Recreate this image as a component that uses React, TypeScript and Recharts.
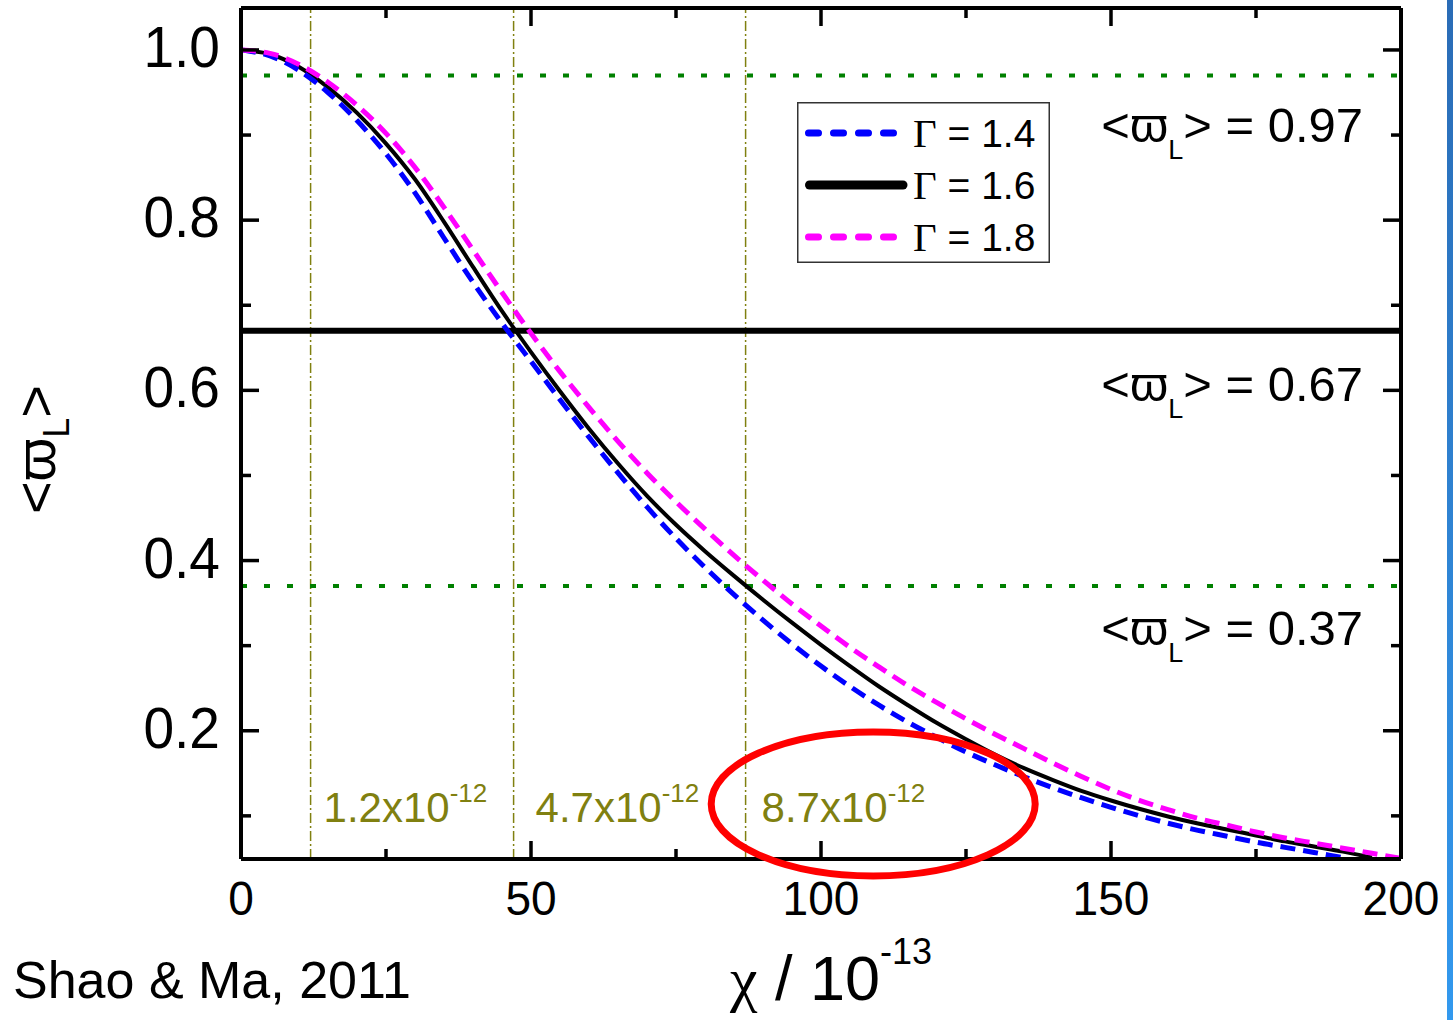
import React from 'react';
import { LineChart, Line, XAxis, YAxis, ReferenceLine, ReferenceDot, Legend } from 'recharts';

// ---- data ----
const chi = [0, 5, 10, 15, 20, 25, 30, 35, 40, 45, 50, 55, 60, 65, 70, 75, 80, 85, 90, 95, 100, 105, 110, 115, 120, 125, 130, 135, 140, 145, 150, 155, 160, 165, 170, 175, 180, 185, 190, 195, 200];
const gamma14 = [1.0, 0.993, 0.976, 0.95, 0.917, 0.878, 0.832, 0.779, 0.727, 0.679, 0.634, 0.589, 0.545, 0.503, 0.463, 0.426, 0.392, 0.36, 0.33, 0.302, 0.276, 0.252, 0.23, 0.21, 0.192, 0.175, 0.16, 0.146, 0.133, 0.121, 0.11, 0.1, 0.091, 0.083, 0.076, 0.069, 0.063, 0.057, 0.051, null, null];
const gamma16 = [1.0, 0.995, 0.98, 0.956, 0.926, 0.89, 0.848, 0.798, 0.745, 0.693, 0.645, 0.599, 0.555, 0.514, 0.476, 0.442, 0.411, 0.382, 0.354, 0.327, 0.301, 0.276, 0.252, 0.23, 0.209, 0.19, 0.172, 0.156, 0.142, 0.129, 0.118, 0.108, 0.099, 0.091, 0.084, 0.077, 0.07, 0.064, 0.058, 0.051, null];
const gamma18 = [1.0, 0.996, 0.983, 0.962, 0.935, 0.902, 0.862, 0.815, 0.765, 0.715, 0.667, 0.622, 0.58, 0.54, 0.503, 0.469, 0.437, 0.406, 0.377, 0.349, 0.323, 0.298, 0.275, 0.253, 0.233, 0.214, 0.196, 0.179, 0.162, 0.146, 0.131, 0.118, 0.107, 0.097, 0.089, 0.081, 0.074, 0.068, 0.062, 0.056, 0.05];

const seriesKeys = ['g16', 'g14', 'g18'];
const seriesGamma = ['1.6', '1.4', '1.8'];
const legendOrder = ['g14', 'g16', 'g18'];

const xTicks = [0, 25, 50, 75, 100, 125, 150, 175, 200];
const xLabels = [0, 50, 100, 150, 200];
const yTicks = [0.1, 0.2, 0.3, 0.4, 0.5, 0.6, 0.7, 0.8, 0.9, 1.0];
const yLabels = [0.2, 0.4, 0.6, 0.8, 1.0];

const levelValues = [0.97, 0.67, 0.37];
const levelLabels = ['0.97', '0.67', '0.37'];
const markerChi = [12, 47, 87];
const markerLabels = ['1.2x10', '4.7x10', '8.7x10'];
const markerExp = '-12';
const circleCenter = { chi: 109, w: 0.114 };

const rows = chi.map((c, i) => ({ chi: c, g14: gamma14[i], g16: gamma16[i], g18: gamma18[i] }));

// ---- styles ----
const FONT = "'Liberation Sans', Arial, 'DejaVu Sans', sans-serif";
const SERIF = "'Liberation Serif', 'Times New Roman', serif";
const OLIVE = '#808010';
const GREEN = '#008000';
const STYLES: Record<string, { color: string; width: number; dash?: string }> = {
  g14: { color: '#0000ff', width: 5, dash: '15 8' },
  g16: { color: '#000000', width: 4 },
  g18: { color: '#ff00ff', width: 5, dash: '15 8' },
};
const levelStyle = [
  { color: GREEN, width: 4, dash: '6 17', dy: 67 },
  { color: '#000000', width: 6, dash: undefined, dy: 70 },
  { color: GREEN, width: 4, dash: '6 17', dy: 59 },
];
const markerDx = [13, 22, 16];

const isIn = (arr: number[], v: number) => arr.some((a) => Math.abs(a - v) < 1e-6);

const LeftTick = (props: any) => {
  const { x, y, payload } = props;
  const major = isIn(yLabels, payload.value);
  return (
    <g>
      <line x1={x} x2={x + (major ? 18 : 10)} y1={y} y2={y} stroke="#000" strokeWidth={3.5} />
      {major && (
        <text transform={`translate(${x - 21},${y + 17}) scale(0.95,1)`} textAnchor="end" fontSize={58} fontFamily={FONT} fill="#000">
          {payload.value.toFixed(1)}
        </text>
      )}
    </g>
  );
};

const RightTick = (props: any) => {
  const { x, y, payload } = props;
  const major = isIn(yLabels, payload.value);
  return <line x1={x} x2={x - (major ? 18 : 10)} y1={y} y2={y} stroke="#000" strokeWidth={3.5} />;
};

const BottomTick = (props: any) => {
  const { x, y, payload } = props;
  const major = isIn(xLabels, payload.value);
  return (
    <g>
      <line x1={x} x2={x} y1={y} y2={y - (major ? 18 : 10)} stroke="#000" strokeWidth={3.5} />
      {major && (
        <text transform={`translate(${x},${y + 56}) scale(0.94,1)`} textAnchor="middle" fontSize={49} fontFamily={FONT} fill="#000">
          {payload.value}
        </text>
      )}
    </g>
  );
};

const TopTick = (props: any) => {
  const { x, y, payload } = props;
  const major = isIn(xLabels, payload.value);
  return <line x1={x} x2={x} y1={y} y2={y + (major ? 18 : 10)} stroke="#000" strokeWidth={3.5} />;
};

const YTitle = (props: any) => {
  const vb = props.viewBox || { x: 0, y: 8, width: 241, height: 851 };
  const cy = vb.y + vb.height / 2 + 16;
  return (
    <text transform={`translate(${vb.x + 55},${cy}) rotate(-90)`} textAnchor="middle" fontSize={56} fontFamily={FONT} fill="#000">
      {'<ϖ'}
      <tspan fontSize={36} dy={14}>L</tspan>
      <tspan fontSize={56} dy={-14}>{'>'}</tspan>
    </text>
  );
};

const XTitle = (props: any) => {
  const vb = props.viewBox || { x: 241, y: 859, width: 1160, height: 161 };
  const cx = vb.x + vb.width / 2 + 10;
  return (
    <g>
      <text x={cx} y={vb.y + 141} textAnchor="middle" fontSize={63} fontFamily={FONT} fill="#000">
        <tspan fontFamily={SERIF} fontSize={62}>χ</tspan>
        {' / 10'}
        <tspan fontSize={36} dy={-36}>-13</tspan>
      </text>
      <text x={13} y={vb.y + 139} fontSize={52} fontFamily={FONT} fill="#000">
        Shao &amp; Ma, 2011
      </text>
    </g>
  );
};

const makeLevelLabel = (i: number) => (props: any) => {
  const vb = props.viewBox;
  if (!vb) return null;
  const x = vb.x + vb.width - 38;
  const y = vb.y + levelStyle[i].dy;
  return (
    <text x={x} y={y} textAnchor="end" fontSize={49} fontFamily={FONT} fill="#000">
      {'<ϖ'}
      <tspan fontSize={27} dy={17}>L</tspan>
      <tspan fontSize={49} dy={-17}>{`> = ${levelLabels[i]}`}</tspan>
    </text>
  );
};

const makeMarkerLabel = (i: number) => (props: any) => {
  const vb = props.viewBox;
  if (!vb) return null;
  const x = vb.x + markerDx[i];
  const y = vb.y + vb.height - 37;
  return (
    <text x={x} y={y} fontSize={42} fontFamily={FONT} fill={OLIVE}>
      {markerLabels[i]}
      <tspan fontSize={26} dy={-20}>{markerExp}</tspan>
    </text>
  );
};

const renderLegend = () => (
  <svg width={253} height={161} style={{ display: 'block', overflow: 'visible' }}>
    <rect x={0.75} y={0.75} width={251.5} height={159.5} fill="#fff" stroke="#333" strokeWidth={1.5} />
    {legendOrder.map((k, i) => {
      const s = STYLES[k];
      const cy = 31 + i * 52;
      const gamma = seriesGamma[seriesKeys.indexOf(k)];
      return (
        <g key={k}>
          {s.dash ? (
            <line x1={11.5} x2={96.5} y1={cy} y2={cy} stroke={s.color} strokeWidth={7} strokeDasharray="10 15" strokeLinecap="round" />
          ) : (
            <line x1={12.5} x2={106} y1={cy} y2={cy} stroke={s.color} strokeWidth={9} strokeLinecap="round" />
          )}
          <text x={116} y={cy + 14} fontSize={39} fontFamily={FONT} fill="#000">
            <tspan fontFamily={SERIF} fontSize={41}>Γ</tspan>
            {` = ${gamma}`}
          </text>
        </g>
      );
    })}
  </svg>
);

export default function App() {
  return (
    <div style={{ position: 'absolute', left: 0, top: 0, width: 1453, height: 1020, background: '#fff', overflow: 'hidden' }}>
      <LineChart width={1453} height={1020} data={rows} margin={{ top: 0, right: 0, bottom: 0, left: 0 }}>
        <XAxis
          dataKey="chi"
          type="number"
          domain={[0, 200]}
          ticks={xTicks}
          interval={0}
          height={161}
          tickSize={0}
          tickMargin={0}
          tickLine={false}
          tick={<BottomTick />}
          axisLine={{ stroke: '#000', strokeWidth: 4 }}
          allowDataOverflow
          label={(p: any) => <XTitle {...p} />}
        />
        <XAxis
          xAxisId="top"
          orientation="top"
          dataKey="chi"
          type="number"
          domain={[0, 200]}
          ticks={xTicks}
          interval={0}
          height={8}
          tickSize={0}
          tickMargin={0}
          tickLine={false}
          tick={<TopTick />}
          axisLine={{ stroke: '#000', strokeWidth: 4 }}
          allowDataOverflow
        />
        <YAxis
          type="number"
          domain={[0.0493, 1.0493]}
          ticks={yTicks}
          interval={0}
          width={241}
          tickSize={0}
          tickMargin={0}
          tickLine={false}
          tick={<LeftTick />}
          axisLine={{ stroke: '#000', strokeWidth: 4 }}
          allowDataOverflow
          label={(p: any) => <YTitle {...p} />}
        />
        <YAxis
          yAxisId="right"
          orientation="right"
          type="number"
          domain={[0.0493, 1.0493]}
          ticks={yTicks}
          interval={0}
          width={52}
          tickSize={0}
          tickMargin={0}
          tickLine={false}
          tick={<RightTick />}
          axisLine={{ stroke: '#000', strokeWidth: 4 }}
          allowDataOverflow
        />

        {markerChi.map((m, i) => (
          <ReferenceLine
            key={`m${i}`}
            x={m}
            stroke={OLIVE}
            strokeWidth={1.5}
            strokeDasharray="10 3 2 3"
            label={makeMarkerLabel(i)}
          />
        ))}
        {levelValues.map((v, i) => (
          <ReferenceLine
            key={`l${i}`}
            y={v}
            stroke={levelStyle[i].color}
            strokeWidth={levelStyle[i].width}
            strokeDasharray={levelStyle[i].dash}
            label={makeLevelLabel(i)}
          />
        ))}

        {seriesKeys.map((k) => (
          <Line
            key={k}
            type="monotone"
            dataKey={k}
            stroke={STYLES[k].color}
            strokeWidth={STYLES[k].width}
            strokeDasharray={STYLES[k].dash}
            dot={false}
            activeDot={false}
            isAnimationActive={false}
            connectNulls={false}
          />
        ))}

        <ReferenceDot
          x={circleCenter.chi}
          y={circleCenter.w}
          ifOverflow="visible"
          shape={(p: any) => (
            <ellipse cx={p.cx} cy={p.cy} rx={162} ry={72} fill="none" stroke="#ff0000" strokeWidth={7} />
          )}
        />

        <Legend
          layout="vertical"
          verticalAlign="middle"
          align="center"
          content={renderLegend}
          wrapperStyle={{ position: 'absolute', left: 797, top: 102, width: 253, height: 161 }}
        />
      </LineChart>
      <div
        style={{
          position: 'absolute',
          left: 1447,
          top: 0,
          width: 6,
          height: 1020,
          background: 'linear-gradient(to bottom, #2a6cb6, #3399ee)',
        }}
      />
    </div>
  );
}
